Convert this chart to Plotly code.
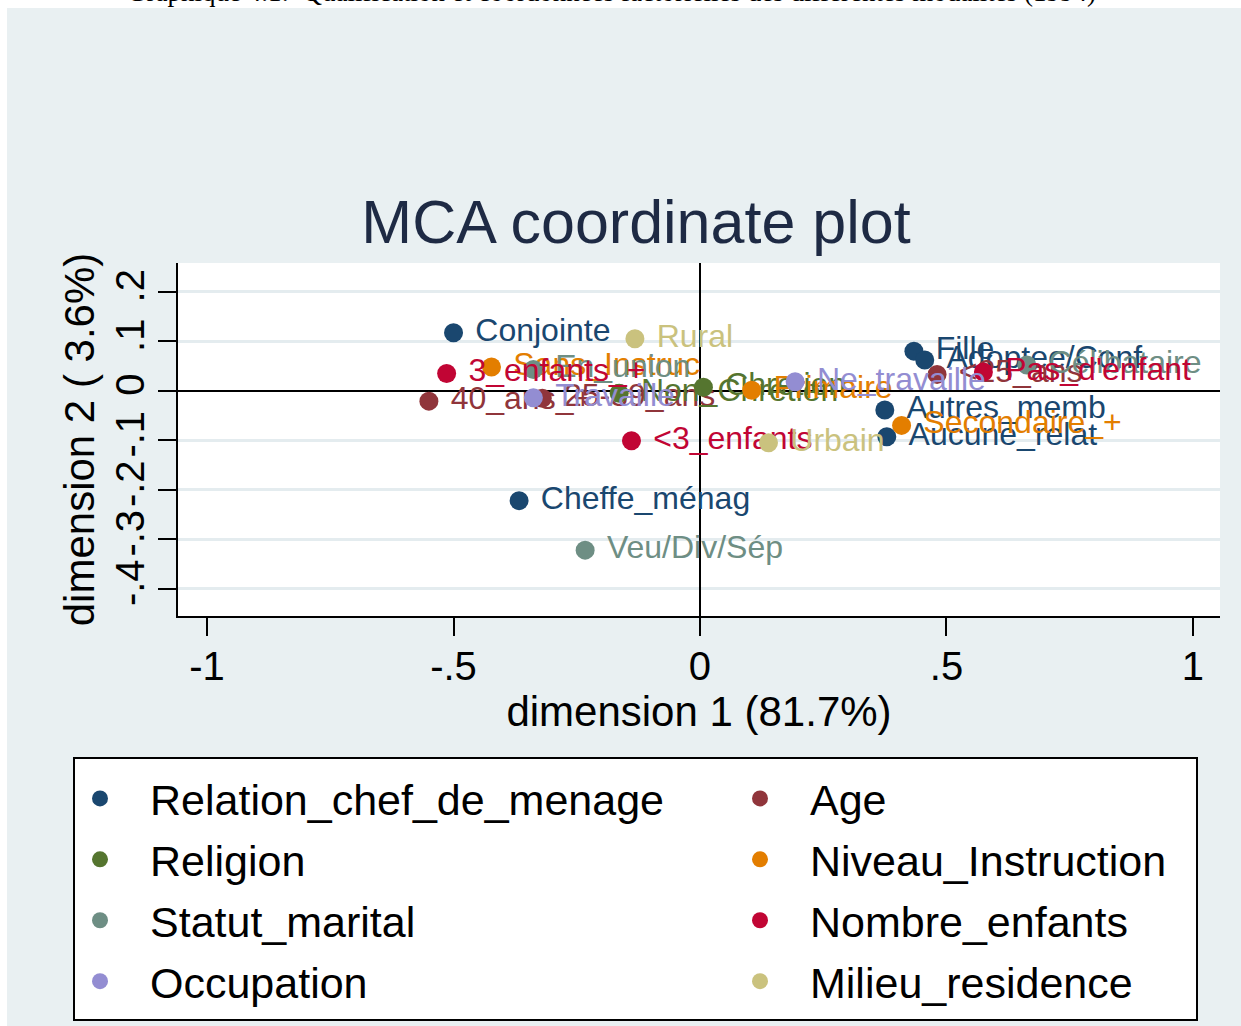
import plotly.graph_objects as go

# --- MCA category coordinates (dimension 1, dimension 2) ---
groups = [
    "Relation_chef_de_menage", "Age", "Religion", "Niveau_Instruction",
    "Statut_marital", "Nombre_enfants", "Occupation", "Milieu_residence",
]

relation_labels = ["Conjointe", "Cheffe_ménag", "Fille", "Adoptee/Conf", "Autres_memb", "Aucune_relat"]
relation_d1 = [-0.500, -0.367, 0.434, 0.456, 0.375, 0.379]
relation_d2 = [0.117, -0.222, 0.080, 0.062, -0.039, -0.093]

age_labels = ["40_ans_+", "25-39_ans", "<25_ans"]
age_d1 = [-0.550, -0.320, 0.481]
age_d2 = [-0.021, -0.015, 0.033]

religion_labels = ["Non_Chretien", "Chretien"]
religion_d1 = [-0.164, 0.007]
religion_d2 = [-0.005, 0.007]

instruction_labels = ["Sans_Instruc", "Primaire", "Secondaire_+"]
instruction_d1 = [-0.423, 0.105, 0.409]
instruction_d2 = [0.048, 0.001, -0.070]

marital_labels = ["En_union", "Veu/Div/Sép", "Célibataire"]
marital_d1 = [-0.338, -0.233, 0.663]
marital_d2 = [0.043, -0.322, 0.052]

children_labels = ["3_enfants_+", "<3_enfants", "Pas_d'enfant"]
children_d1 = [-0.514, -0.139, 0.575]
children_d2 = [0.035, -0.101, 0.038]

occupation_labels = ["Travaille", "Ne_travaille"]
occupation_d1 = [-0.338, 0.193]
occupation_d2 = [-0.014, 0.018]

residence_labels = ["Rural", "Urbain"]
residence_d1 = [-0.132, 0.139]
residence_d2 = [0.105, -0.105]

x_tickvals = [-1, -0.5, 0, 0.5, 1]
x_ticktext = ["-1", "-.5", "0", ".5", "1"]
y_tickvals = [-0.4, -0.3, -0.2, -0.1, 0, 0.1, 0.2]
y_ticktext = ["-.4", "-.3", "-.2", "-.1", "0", ".1", ".2"]

# Stata s2color palette
colors = ["#1a476f", "#90353b", "#55752f", "#e37e00",
          "#6e8e84", "#c10534", "#938dd2", "#cac27e"]

series = [
    (relation_d1, relation_d2, relation_labels),
    (age_d1, age_d2, age_labels),
    (religion_d1, religion_d2, religion_labels),
    (instruction_d1, instruction_d2, instruction_labels),
    (marital_d1, marital_d2, marital_labels),
    (children_d1, children_d2, children_labels),
    (occupation_d1, occupation_d2, occupation_labels),
    (residence_d1, residence_d2, residence_labels),
]

FONT = "Liberation Sans, Arial, sans-serif"
W, H = 1241, 1026
L, R, T, B = 178, 21, 263, 410
PW, PH = W - L - R, H - T - B


def px_x(px):
    return (px - L) / PW


def px_y(py):
    return (H - B - py) / PH


fig = go.Figure()
for i, (name, (d1, d2, labels)) in enumerate(zip(groups, series)):
    # left column of the key: groups 0,2,4,6 ; right column: 1,3,5,7
    fig.add_trace(go.Scatter(
        x=d1, y=d2, text=labels, name=name,
        mode="markers+text",
        texttemplate="\u00a0%{text}",
        textposition="middle right",
        textfont=dict(family=FONT, size=32, color=colors[i]),
        marker=dict(size=19, color=colors[i], line=dict(width=0)),
        cliponaxis=False,
        legend="legend" if i % 2 == 0 else "legend2",
        legendgroup=name,
        hoverinfo="skip",
    ))

legend_common = dict(
    bgcolor="rgba(0,0,0,0)", borderwidth=0,
    font=dict(family=FONT, size=43, color="black"),
    itemwidth=90, itemsizing="trace", tracegroupgap=2,
    xanchor="left", yanchor="top", orientation="v",
)

fig.update_layout(
    width=W, height=H,
    margin=dict(l=L, r=R, t=T, b=B, autoexpand=False),
    paper_bgcolor="#e9f0f2",
    plot_bgcolor="white",
    font=dict(family=FONT, color="black"),
    title=dict(
        text="MCA coordinate plot",
        font=dict(family=FONT, size=61, color="#1e2a44"),
        x=636 / W, xanchor="center", xref="container",
        y=1 - 222 / H, yanchor="middle", yref="container",
    ),
    xaxis=dict(
        range=[-1.059, 1.055],
        tickvals=x_tickvals, ticktext=x_ticktext,
        tickfont=dict(family=FONT, size=40, color="black"),
        ticks="outside", ticklen=18, tickwidth=2, tickcolor="black",
        ticklabelstandoff=-4,
        showline=True, linecolor="black", linewidth=2,
        showgrid=False,
        zeroline=True, zerolinecolor="black", zerolinewidth=2,
        title=dict(text="dimension 1 (81.7%)",
                   font=dict(family=FONT, size=42, color="black"), standoff=1),
    ),
    yaxis=dict(
        range=[-0.455, 0.258],
        tickvals=y_tickvals, ticktext=y_ticktext, tickangle=-90,
        tickfont=dict(family=FONT, size=40, color="black"),
        ticks="outside", ticklen=18, tickwidth=2, tickcolor="black",
        ticklabelstandoff=-2,
        showline=True, linecolor="black", linewidth=2,
        showgrid=True, gridcolor="#e4ecef", gridwidth=3,
        zeroline=True, zerolinecolor="black", zerolinewidth=2,
        title=dict(text="dimension 2 ( 3.6%)",
                   font=dict(family=FONT, size=42, color="black"), standoff=0),
    ),
    legend=dict(x=px_x(50), y=px_y(764), **legend_common),
    legend2=dict(x=px_x(710), y=px_y(764), **legend_common),
    showlegend=True,
    shapes=[
        # key frame
        dict(type="rect", xref="paper", yref="paper",
             x0=px_x(74), x1=px_x(1197), y0=px_y(1020), y1=px_y(758),
             fillcolor="white", line=dict(color="black", width=2), layer="above"),
        # white page strips around the graph region
        dict(type="rect", xref="paper", yref="paper",
             x0=px_x(0), x1=px_x(W), y0=px_y(8), y1=px_y(-2),
             fillcolor="white", line=dict(width=0), layer="above"),
        dict(type="rect", xref="paper", yref="paper",
             x0=px_x(-2), x1=px_x(7), y0=px_y(H + 2), y1=px_y(-2),
             fillcolor="white", line=dict(width=0), layer="above"),
    ],
    annotations=[
        dict(text="Graphique 4.1:  Qualification et coordonnées factorielles des différentes modalités (1994)",
             xref="paper", yref="paper", x=px_x(611), y=px_y(-8),
             xanchor="center", yanchor="middle", showarrow=False,
             font=dict(family="Liberation Serif, Times New Roman, serif", size=27, color="black")),
    ],
)

fig.write_html("out.html")
